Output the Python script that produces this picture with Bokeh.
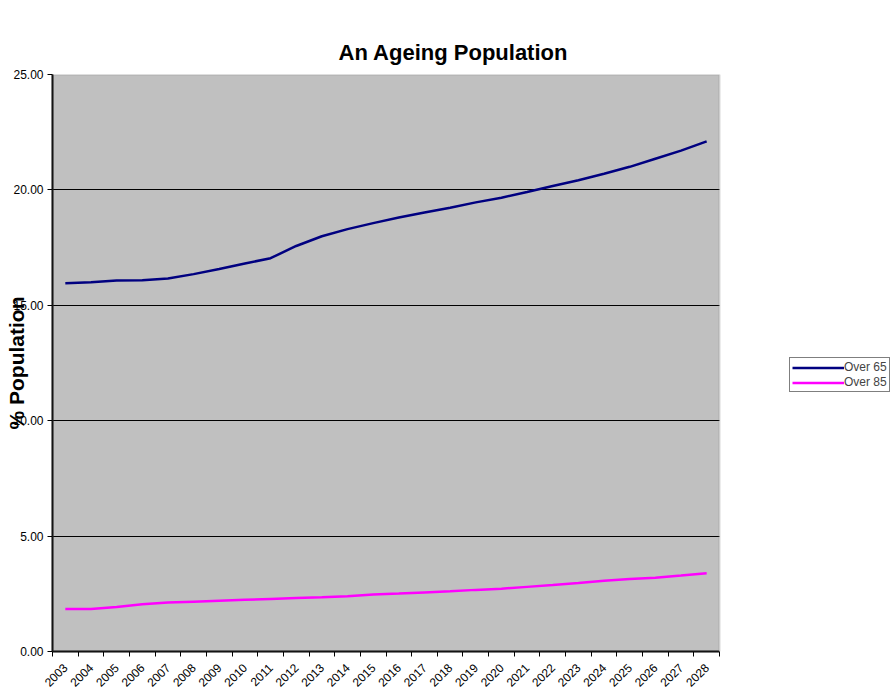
import math
from bokeh.plotting import figure
from bokeh.models import (Range1d, FixedTicker, NumeralTickFormatter, Legend, LegendItem,
                          ColumnDataSource, Title, BoxAnnotation)
from bokeh.embed import file_html
from bokeh.resources import INLINE

years = list(range(2003, 2029))
over65 = [15.96, 16.00, 16.07, 16.09, 16.16, 16.35, 16.57, 16.81, 17.04, 17.57, 17.99, 18.30, 18.56,
          18.80, 19.02, 19.23, 19.46, 19.66, 19.91, 20.17, 20.42, 20.70, 21.00, 21.35, 21.70, 22.10]
over85 = [1.84, 1.84, 1.93, 2.05, 2.12, 2.16, 2.20, 2.24, 2.28, 2.32, 2.35, 2.39, 2.47,
          2.51, 2.56, 2.61, 2.67, 2.72, 2.80, 2.88, 2.97, 3.07, 3.14, 3.20, 3.29, 3.39]
y_ticks = [0, 5, 10, 15, 20, 25]
series_names = ["Over 65", "Over 85"]
series_colors = ["#000080", "#FF00FF"]

FONT = "Liberation Sans"

W, H = 891, 693
LEFT, TOP, BOTTOM = 52, 74, 41
PLOT_W = 667  # width of the grey plot area in px
FRAME_W = W - LEFT

x0 = years[0] - 0.5
x1 = years[-1] + 0.5
x_end = x0 + (x1 - x0) * FRAME_W / PLOT_W   # frame extends to the right edge to host the legend

p = figure(width=W, height=H, output_backend="svg", toolbar_location=None,
           x_range=Range1d(x0, x_end), y_range=Range1d(y_ticks[0], y_ticks[-1]),
           min_border_left=LEFT, min_border_right=0, min_border_top=TOP, min_border_bottom=BOTTOM,
           border_fill_color="white")

p.background_fill_color = "white"
p.outline_line_color = None
p.title.text = ""

# real title first, then an invisible spacer (closest to the frame)
p.add_layout(Title(text="An Ageing Population", text_font=FONT, text_font_size="22px",
                   text_font_style="bold", text_color="black", align="left", offset=286,
                   standoff=20), "above")
p.add_layout(Title(text=".", text_font_size="10px", text_alpha=0, standoff=13), "above")

# grey plot area (drawn below the grid)
p.add_layout(BoxAnnotation(right=x1, fill_color="#C0C0C0", fill_alpha=1, line_color=None, level="image"))

src = ColumnDataSource(dict(year=years, o65=over65, o85=over85))
r1 = p.line("year", "o65", source=src, line_color=series_colors[0], line_width=2.5)
r2 = p.line("year", "o85", source=src, line_color=series_colors[1], line_width=2.5)

# grid
p.xgrid.grid_line_color = None
p.ygrid.grid_line_color = "black"
p.ygrid.grid_line_width = 1
p.ygrid.ticker = FixedTicker(ticks=y_ticks[1:-1])

# white cover right of the plot area (hides grid lines in the legend region)
p.add_layout(BoxAnnotation(left=x1, fill_color="white", fill_alpha=1, line_color=None, level="annotation"))

# grey border of the plot area (top and right visible)
p.add_layout(BoxAnnotation(right=x1, fill_color=None, fill_alpha=0, line_color="#808080",
                           line_width=2, level="annotation"))

# y axis
ya = p.yaxis[0]
ya.ticker = FixedTicker(ticks=y_ticks)
ya.formatter = NumeralTickFormatter(format="0.00")
ya.axis_line_color = "black"
ya.axis_line_width = 2
ya.major_tick_in = 0
ya.major_tick_out = 5
ya.minor_tick_line_color = None
ya.major_label_text_font = FONT
ya.major_label_text_font_size = "12px"
ya.major_label_text_color = "black"
ya.major_label_standoff = 4
ya.axis_label = "% Population"
ya.axis_label_text_font = FONT
ya.axis_label_text_font_size = "21px"
ya.axis_label_text_font_style = "bold"
ya.axis_label_text_color = "black"
ya.axis_label_standoff = -18

# x axis
xa = p.xaxis[0]
xa.bounds = (x0, x1)
xa.ticker = FixedTicker(ticks=years, minor_ticks=[y - 0.5 for y in years] + [x1])
xa.axis_line_color = "black"
xa.axis_line_width = 2
xa.major_tick_in = 0
xa.major_tick_out = 0
xa.minor_tick_in = 0
xa.minor_tick_out = 5
xa.minor_tick_line_color = "black"
xa.major_label_orientation = math.pi / 4
xa.major_label_text_font = FONT
xa.major_label_text_font_size = "12px"
xa.major_label_text_color = "black"
xa.major_label_standoff = 9

legend = Legend(items=[LegendItem(label=series_names[0], renderers=[r1]),
                       LegendItem(label=series_names[1], renderers=[r2])],
                location=(737, 259), orientation="vertical",
                border_line_color="black", border_line_width=1,
                background_fill_color="white", background_fill_alpha=1,
                label_text_font=FONT, label_text_font_size="12px",
                glyph_width=52, glyph_height=13, label_height=13, label_standoff=0,
                spacing=1, padding=2, margin=0)
p.add_layout(legend, "center")

open("out.html", "w").write(file_html(p, INLINE))
